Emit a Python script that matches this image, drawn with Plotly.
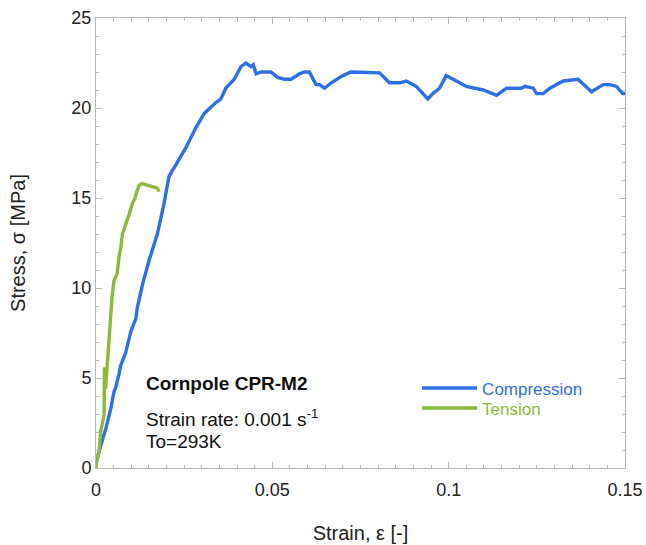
import plotly.graph_objects as go

# Compression curve (strain, stress MPa)
comp_strain = [0.0, 0.00085, 0.0028, 0.0042, 0.0051, 0.0056, 0.0065, 0.007, 0.0084, 0.0099,
               0.0113, 0.0117, 0.0132, 0.015, 0.0174, 0.0184, 0.0193, 0.0207, 0.0231, 0.0255,
               0.0283, 0.0307, 0.034, 0.0354, 0.0368, 0.0392, 0.0411, 0.0425, 0.044, 0.0446,
               0.0454, 0.0468, 0.0496, 0.0515, 0.0534, 0.0553, 0.0577, 0.0591, 0.0605, 0.0624,
               0.0634, 0.0648, 0.0667, 0.07, 0.0723, 0.0766, 0.0804, 0.0832, 0.0861, 0.088,
               0.0908, 0.0941, 0.0955, 0.0974, 0.0993, 0.1022, 0.105, 0.1098, 0.1136, 0.1164,
               0.1206, 0.1216, 0.124, 0.1249, 0.1268, 0.1287, 0.1325, 0.1367, 0.1405, 0.1438,
               0.1457, 0.1476, 0.1493, 0.15]
comp_stress = [0.24, 0.9, 2.2, 3.3, 4.24, 4.5, 5.2, 5.7, 6.4, 7.6,
               8.3, 8.9, 10.2, 11.5, 13.0, 13.9, 14.7, 16.2, 17.0, 17.8,
               18.9, 19.7, 20.3, 20.5, 21.1, 21.6, 22.3, 22.5, 22.3, 22.4,
               21.9, 22.0, 22.0, 21.7, 21.6, 21.6, 21.9, 22.0, 22.0, 21.3,
               21.3, 21.1, 21.4, 21.8, 22.0, 21.95, 21.95, 21.4, 21.4, 21.5,
               21.2, 20.5, 20.8, 21.1, 21.8, 21.5, 21.2, 21.0, 20.7, 21.1,
               21.1, 21.2, 21.1, 20.8, 20.8, 21.1, 21.5, 21.6, 20.9, 21.3,
               21.3, 21.2, 20.8, 20.8]

# Tension curve
tens_strain = [0.0, 0.0002, 0.0009, 0.0013, 0.0023, 0.0024, 0.0025, 0.0026, 0.0027, 0.0032,
               0.0037, 0.0042, 0.0046, 0.0051, 0.006, 0.0065, 0.007, 0.0075, 0.0084, 0.0094,
               0.0103, 0.0111, 0.0113, 0.0122, 0.013, 0.0146, 0.0165, 0.0174, 0.0179]
tens_stress = [0.0, 0.45, 0.9, 2.0, 2.95, 5.6, 3.4, 5.3, 4.4, 5.9,
               7.2, 8.5, 9.6, 10.4, 10.8, 11.7, 12.2, 13.0, 13.5, 14.1,
               14.7, 15.0, 15.2, 15.7, 15.8, 15.7, 15.6, 15.55, 15.35]

x_tick_vals = [0, 0.05, 0.1, 0.15]
x_tick_text = ["0", "0.05", "0.1", "0.15"]

BLUE = "#2f6fe6"
GREEN = "#8db83a"
FONT = "Liberation Sans, Arial, sans-serif"
TXT = "#222222"
FRAME = "#b8b8b8"

fig = go.Figure()
fig.add_trace(go.Scatter(x=comp_strain, y=comp_stress, mode="lines",
                         line=dict(color=BLUE, width=3.4), legend="legend",
                         name=f'<span style="color:{BLUE}">Compression</span>'))
fig.add_trace(go.Scatter(x=tens_strain, y=tens_stress, mode="lines",
                         line=dict(color=GREEN, width=3.4), legend="legend2",
                         name=f'<span style="color:{GREEN}">Tension</span>'))

axis_common = dict(showgrid=False, zeroline=False, showline=True, linecolor=FRAME,
                   linewidth=1, mirror="ticks", ticks="inside", ticklen=6,
                   tickcolor=FRAME, tickfont=dict(size=18, color=TXT, family=FONT))

fig.update_xaxes(range=[0, 0.15], tickvals=x_tick_vals, ticktext=x_tick_text,
                 ticklabelstandoff=5,
                 minor=dict(dtick=0.005, ticks="inside", ticklen=3, tickcolor=FRAME),
                 title=dict(text="Strain, ε [-]", font=dict(size=20, color=TXT, family=FONT),
                            standoff=27),
                 **axis_common)
fig.update_yaxes(range=[0, 25], dtick=5,
                 minor=dict(dtick=1, ticks="inside", ticklen=3, tickcolor=FRAME),
                 title=dict(text="Stress, σ [MPa]", font=dict(size=20, color=TXT, family=FONT),
                            standoff=40),
                 **axis_common)

ann_font = dict(size=19, color="#111", family=FONT)
fig.add_annotation(x=0.0135, y=4.72, xref="x", yref="y", text="<b>Cornpole CPR-M2</b>",
                   showarrow=False, xanchor="left", yanchor="middle", font=ann_font)
fig.add_annotation(x=0.0135, y=2.8, xref="x", yref="y", text="Strain rate: 0.001 s<sup>-1</sup>",
                   showarrow=False, xanchor="left", yanchor="middle", font=ann_font)
fig.add_annotation(x=0.0135, y=1.5, xref="x", yref="y", text="To=293K",
                   showarrow=False, xanchor="left", yanchor="middle", font=ann_font)

leg_common = dict(xanchor="left", yanchor="middle", bgcolor="rgba(0,0,0,0)",
                  font=dict(size=17, family=FONT), itemwidth=55)
fig.update_layout(
    width=646, height=545,
    margin=dict(l=96, r=21, t=18, b=77, autoexpand=False),
    paper_bgcolor="white", plot_bgcolor="white",
    showlegend=True,
    legend=dict(x=0.607, y=0.1767, **leg_common),
    legend2=dict(x=0.607, y=0.1322, **leg_common),
)

fig.write_html("out.html", config={"displayModeBar": False},
               post_script="document.body.style.margin='0';")
